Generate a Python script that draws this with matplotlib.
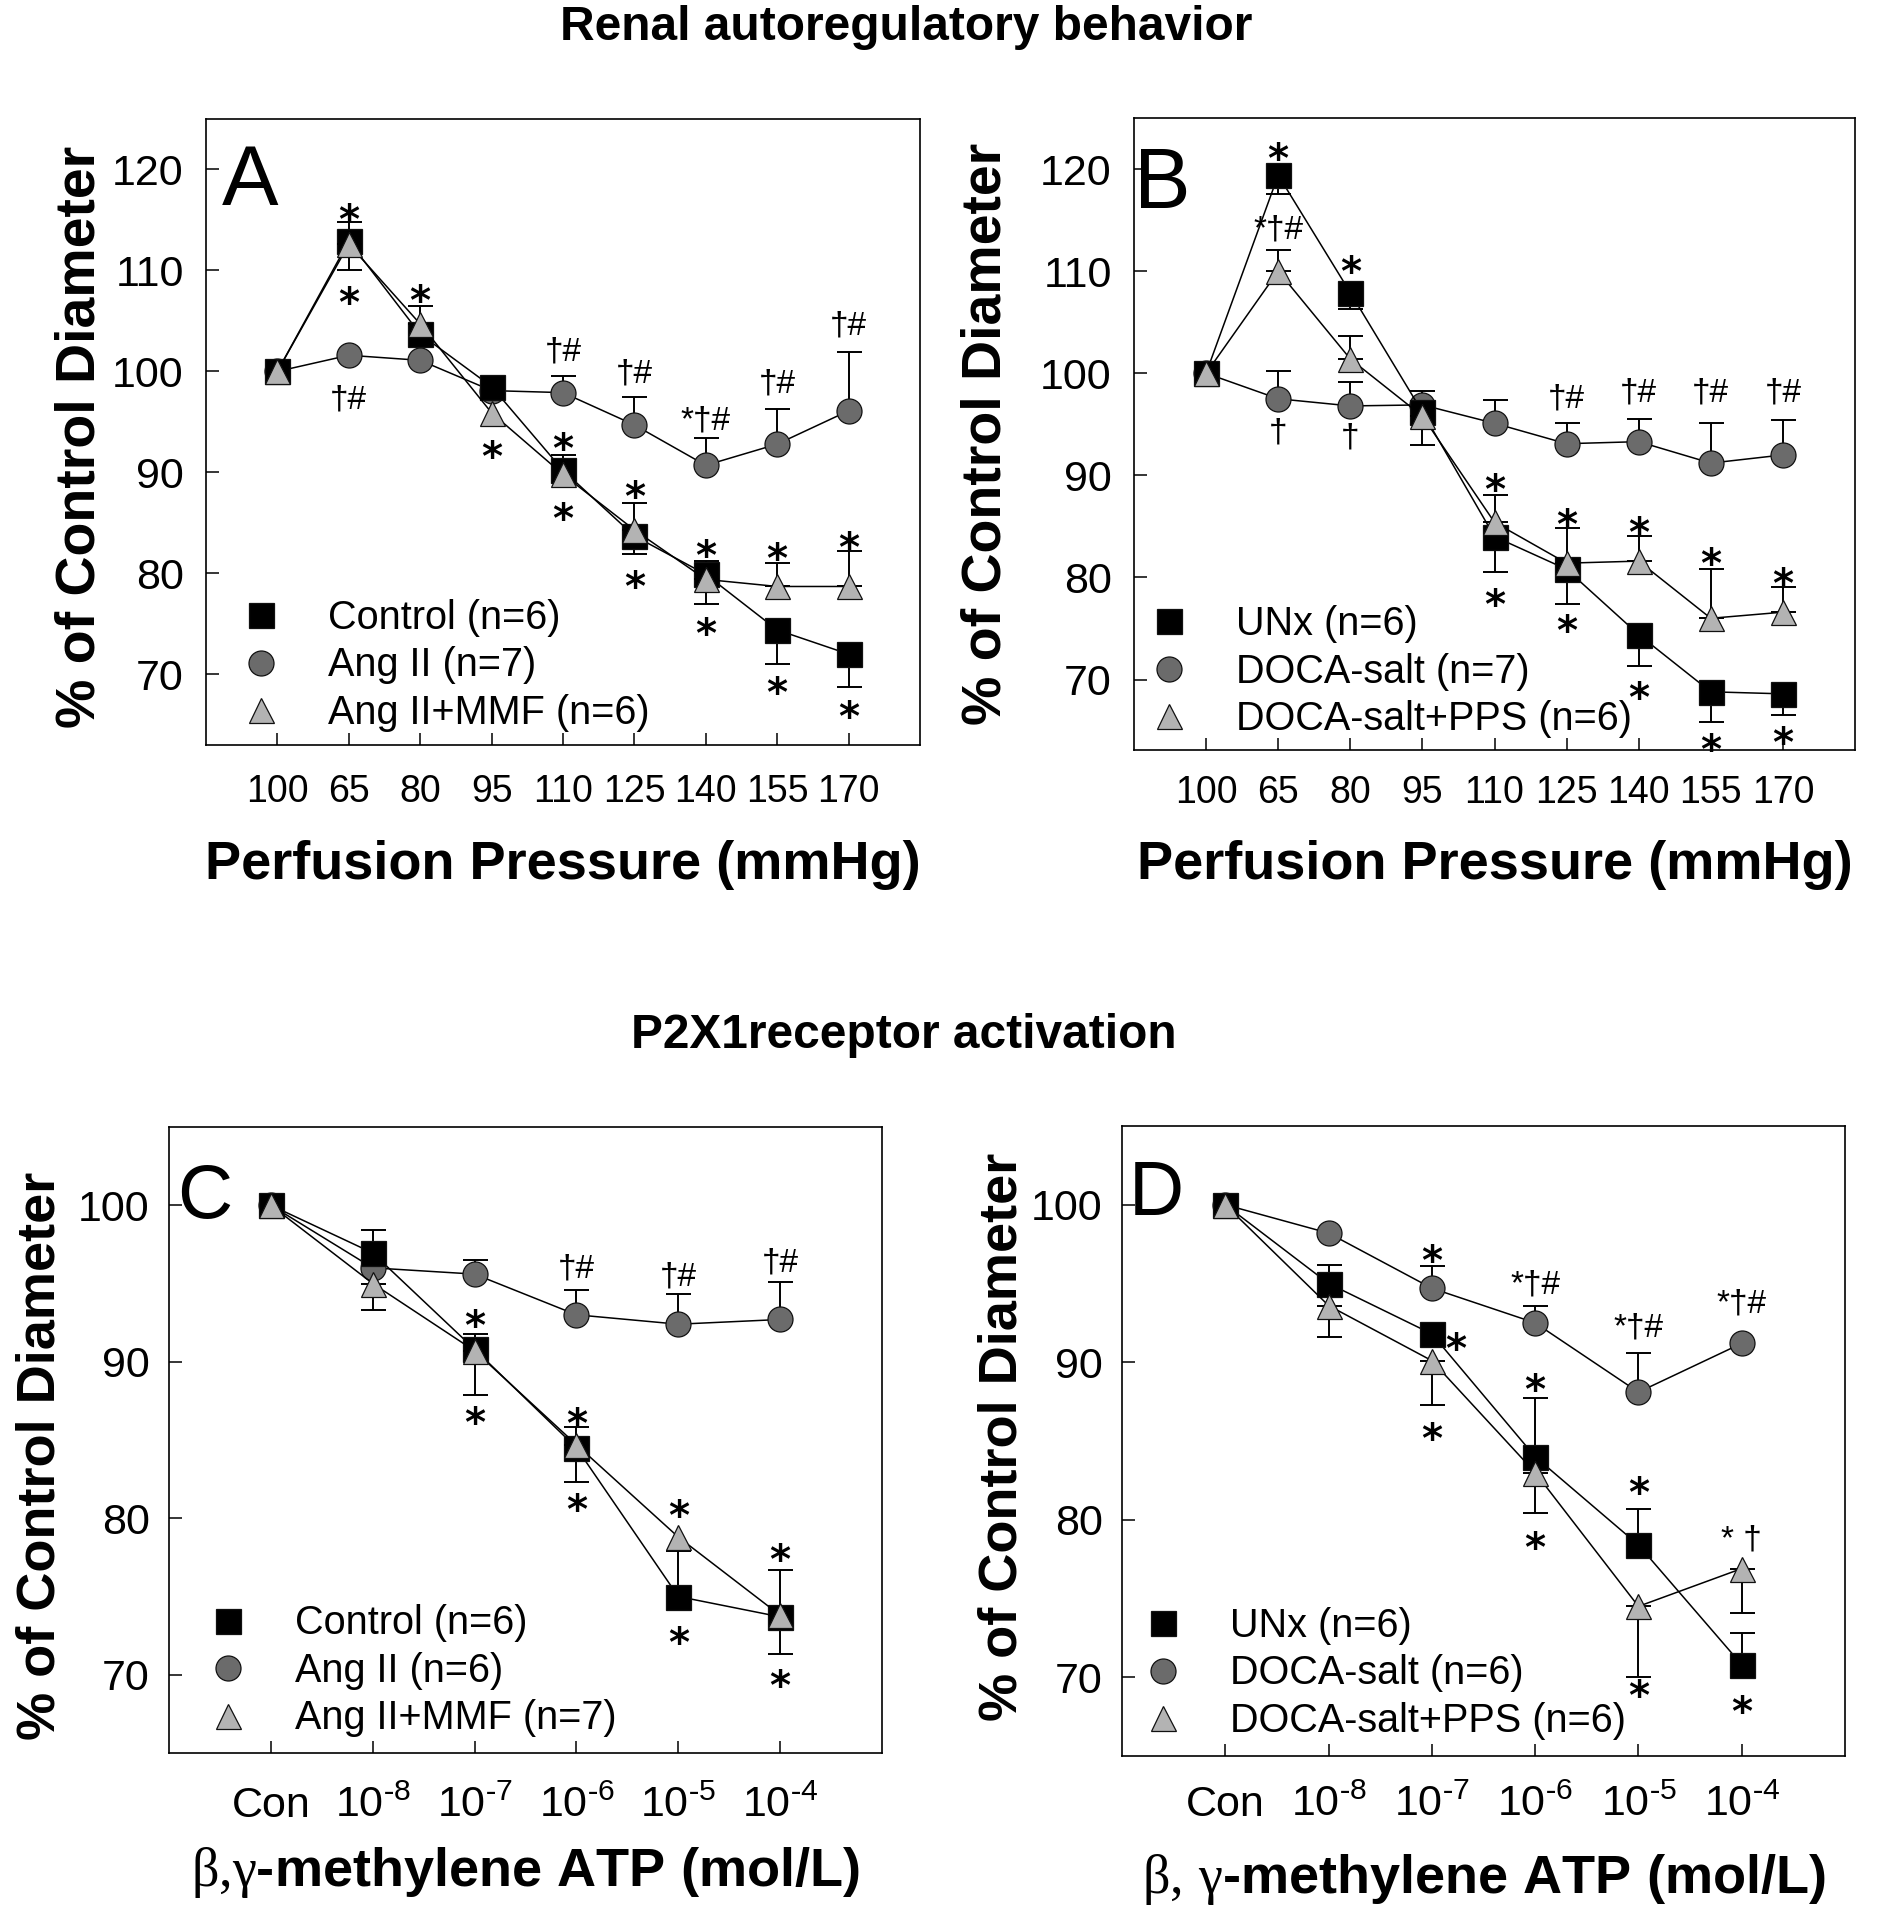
import numpy as np
import matplotlib
matplotlib.use('Agg')
import matplotlib.pyplot as plt
from matplotlib.lines import Line2D

plt.rcParams['font.family'] = ['Liberation Sans', 'DejaVu Sans']
plt.rcParams['mathtext.fontset'] = 'custom'
plt.rcParams['mathtext.rm'] = 'Liberation Serif'
plt.rcParams['mathtext.sf'] = 'Liberation Sans'
plt.rcParams['mathtext.it'] = 'Liberation Sans:italic'
plt.rcParams['mathtext.bf'] = 'Liberation Sans:bold'

# ---------------- data ----------------
pressure_labels = ['100', '65', '80', '95', '110', '125', '140', '155', '170']
atp_labels = ['Con', r'$\mathsf{10^{\text{-}8}}$', r'$\mathsf{10^{\text{-}7}}$',
              r'$\mathsf{10^{\text{-}6}}$', r'$\mathsf{10^{\text{-}5}}$',
              r'$\mathsf{10^{\text{-}4}}$']

# Panel A
A_control = [100, 112.9, 103.7, 98.5, 90.2, 83.7, 79.9, 74.4, 72.0]
A_control_up = [0, 1.9, 0, 0, 1.5, 0, 1.3, 0, 0]
A_control_dn = [0, 0, 0, 0, 0, 1.8, 0, 3.4, 3.3]
A_angii = [100, 101.6, 101.1, 98.1, 97.9, 94.7, 90.7, 92.8, 96.1]
A_angii_up = [0, 0, 0, 0, 1.6, 2.8, 2.7, 3.5, 5.8]
A_angii_dn = [0, 0, 0, 0, 0, 0, 0, 0, 0]
A_mmf = [100, 112.6, 104.7, 95.9, 89.8, 84.3, 79.4, 78.7, 78.7]
A_mmf_up = [0, 0, 1.8, 0, 0, 2.7, 0, 2.3, 3.5]
A_mmf_dn = [0, 2.6, 0, 0, 0, 0, 2.4, 0, 0]
A_labels = ['Control (n=6)', 'Ang II (n=7)', 'Ang II+MMF (n=6)']
A_ann = [(1, 116.1, '*'), (1, 107.8, '*'), (1, 97.3, '†#'), (2, 108.0, '*'), (3, 92.6, '*'),
         (4, 102.1, '†#'), (4, 93.4, '*'), (4, 86.4, '*'),
         (5, 99.9, '†#'), (5, 88.6, '*'), (5, 79.7, '*'),
         (6, 95.2, '*†#'), (6, 82.8, '*'), (6, 75.1, '*'),
         (7, 98.9, '†#'), (7, 82.5, '*'), (7, 69.2, '*'),
         (8, 104.6, '†#'), (8, 83.6, '*'), (8, 66.8, '*')]

# Panel B
B_unx = [100, 119.4, 107.9, 96.2, 84.0, 80.8, 74.4, 68.8, 68.6]
B_unx_up = [0, 0, 0, 0, 0, 0, 0, 0, 0]
B_unx_dn = [0, 1.8, 1.6, 0, 3.5, 3.4, 3.1, 3.0, 2.1]
B_doca = [100, 97.5, 96.8, 96.9, 95.1, 93.1, 93.3, 91.2, 92.0]
B_doca_up = [0, 2.7, 2.3, 1.4, 2.3, 2.0, 2.2, 3.9, 3.4]
B_doca_dn = [0, 0, 0, 0, 0, 0, 0, 0, 0]
B_pps = [100, 110.0, 101.4, 95.8, 85.4, 81.4, 81.6, 76.0, 76.6]
B_pps_up = [0, 2.1, 2.2, 0, 2.7, 3.4, 2.5, 4.8, 2.5]
B_pps_dn = [0, 0, 0, 2.8, 0, 0, 0, 0, 0]
B_labels = ['UNx (n=6)', 'DOCA-salt (n=7)', 'DOCA-salt+PPS (n=6)']
B_ann = [(1, 122.0, '*'), (1, 114.2, '*†#'), (1, 94.3, '†'), (2, 111.0, '*'), (2, 93.8, '†'),
         (4, 89.6, '*'), (4, 78.4, '*'),
         (5, 97.6, '†#'), (5, 86.2, '*'), (5, 75.8, '*'),
         (6, 98.2, '†#'), (6, 85.4, '*'), (6, 69.2, '*'),
         (7, 98.2, '†#'), (7, 82.4, '*'), (7, 64.2, '*'),
         (8, 98.2, '†#'), (8, 80.4, '*'), (8, 64.8, '*')]

# Panel C
C_control = [100, 96.95, 90.8, 84.5, 75.0, 73.7]
C_control_up = [0, 1.5, 1.0, 0, 2.9, 0]
C_control_dn = [0, 0, 0, 2.2, 0, 2.4]
C_angii = [100, 96.0, 95.6, 93.0, 92.4, 92.7]
C_angii_up = [0, 0, 0.9, 1.6, 1.9, 2.4]
C_angii_dn = [0, 0, 0, 0, 0, 0]
C_mmf = [100, 95.0, 90.7, 84.7, 78.8, 73.8]
C_mmf_up = [0, 0, 0, 1.1, 0, 2.9]
C_mmf_dn = [0, 1.7, 2.8, 0, 0, 0]
C_labels = ['Control (n=6)', 'Ang II (n=6)', 'Ang II+MMF (n=7)']
C_ann = [(2, 93.0, '*'), (2, 86.8, '*'),
         (3, 96.0, '†#'), (3, 86.7, '*'), (3, 81.2, '*'),
         (4, 95.5, '†#'), (4, 80.8, '*'), (4, 72.7, '*'),
         (5, 96.4, '†#'), (5, 78.0, '*'), (5, 70.0, '*')]

# Panel D
D_unx = [100, 95.0, 91.8, 84.0, 78.4, 70.8]
D_unx_up = [0, 1.2, 0, 3.7, 2.3, 2.0]
D_unx_dn = [0, 0, 0, 0, 0, 0]
D_doca = [100, 98.2, 94.7, 92.5, 88.1, 91.2]
D_doca_up = [0, 0, 1.4, 1.1, 2.5, 0]
D_doca_dn = [0, 0, 0, 0, 0, 0]
D_pps = [100, 93.6, 90.1, 83.0, 74.5, 76.9]
D_pps_up = [0, 0, 0, 0, 0, 0]
D_pps_dn = [0, 2.0, 2.8, 2.6, 4.5, 2.8]
D_labels = ['UNx (n=6)', 'DOCA-salt (n=6)', 'DOCA-salt+PPS (n=6)']
D_ann = [(2, 97.1, '*'), (2.23, 91.5, '*'), (2, 85.8, '*'),
         (3, 95.0, '*†#'), (3, 88.9, '*'), (3, 78.9, '*'),
         (4, 92.3, '*†#'), (4, 82.4, '*'), (4, 69.5, '*'),
         (5, 93.8, '*†#'), (5, 78.8, '* †'), (5, 68.5, '*')]

# ---------------- styles ----------------
STY = [dict(marker='s', mfc='#000000'),
       dict(marker='o', mfc='#6b6b6b'),
       dict(marker='^', mfc='#b3b3b3')]
MS = 18
ZORD = [3, 2, 4]

W, H = 1888, 1920
fig = plt.figure(figsize=(W / 100, H / 100), dpi=100)


def ax_at(l, t, r, b):
    return fig.add_axes([l / W, 1 - b / H, (r - l) / W, (b - t) / H])


def draw_series(ax, y, up, dn, k):
    y = np.asarray(y, float)
    up = np.asarray(up, float)
    dn = np.asarray(dn, float)
    x = np.arange(len(y))
    z = ZORD[k]
    for err, sign in ((up, 1), (dn, -1)):
        m = err > 0
        if m.any():
            zeros = np.zeros(m.sum())
            yerr = [zeros, err[m]] if sign > 0 else [err[m], zeros]
            ax.errorbar(x[m], y[m], yerr=yerr, fmt='none', ecolor='black',
                        elinewidth=1.4, capsize=9, capthick=1.4, zorder=z)
    ax.plot(x, y, color='black', lw=1.1, ms=MS, mec='#111111', mew=0.9,
            zorder=z + 0.5, **STY[k])


def annotate(ax, anns):
    for x, y, s in anns:
        if s == '*':
            fs = 29
            ax.annotate(s, (x, y), xytext=(0, -0.59 * fs), textcoords='offset points',
                        ha='center', va='baseline', fontsize=fs, family='DejaVu Sans',
                        fontweight='bold', zorder=6)
        else:
            fs = 24
            ax.annotate(s, (x, y), xytext=(0, -0.30 * fs), textcoords='offset points',
                        ha='center', va='baseline', fontsize=fs, zorder=6)


def setup(ax, cfg):
    ax.set_xlim(*cfg['xlim'])
    ax.set_ylim(*cfg['ylim'])
    n = len(cfg['xlabels'])
    ax.set_xticks(np.arange(n))
    ax.set_xticklabels(cfg['xlabels'])
    ax.set_yticks(cfg['yticks'])
    ax.tick_params(axis='both', direction='in', length=9, width=1.1)
    ax.tick_params(axis='x', labelsize=cfg['xfs'], pad=cfg['xpad'])
    ax.tick_params(axis='y', labelsize=cfg['yfs'], pad=cfg['ypad'])
    for lab in ax.get_xticklabels():
        lab.set_va('baseline')
    for sp in ax.spines.values():
        sp.set_linewidth(1.2)
    ax.set_ylabel('% of Control Diameter', fontsize=cfg['ylfs'], fontweight='bold',
                  va='center', ha='center')
    ax.yaxis.set_label_coords(*cfg['ylpos'])
    ax.set_xlabel(cfg['xlabel'], fontsize=cfg['xlfs'], fontweight='bold', va='baseline')
    ax.xaxis.set_label_coords(*cfg['xlpos'])
    ax.text(cfg['letpos'][0], cfg['letpos'][1], cfg['letter'], transform=ax.transAxes,
            fontsize=cfg['letfs'], ha='left', va='baseline')


def legend(ax, labels, x0, yc):
    handles = [Line2D([], [], ls='none', ms=MS, mec='#111111', mew=0.9, **STY[k])
               for k in range(3)]
    ax.legend(handles, labels, loc='center left', bbox_to_anchor=(x0, yc),
              frameon=False, fontsize=28.5, handlelength=1.2, handletextpad=1.09,
              borderpad=0, borderaxespad=0, labelspacing=0.24, numpoints=1)


# ---------------- panel A ----------------
axA = ax_at(206, 119, 920, 745)
draw_series(axA, A_angii, A_angii_up, A_angii_dn, 1)
draw_series(axA, A_control, A_control_up, A_control_dn, 0)
draw_series(axA, A_mmf, A_mmf_up, A_mmf_dn, 2)
annotate(axA, A_ann)
setup(axA, dict(xlim=(-1, 9), ylim=(63, 125), xlabels=pressure_labels,
                yticks=[70, 80, 90, 100, 110, 120], xfs=27, xpad=41, yfs=31, ypad=16,
                ylfs=40, ylpos=(-0.176, 0.492), xlabel='Perfusion Pressure (mmHg)',
                xlfs=39, xlpos=(0.5, -0.214), letter='A', letpos=(0.022, 0.862), letfs=61))
legend(axA, A_labels, 0.044, 0.127)

# ---------------- panel B ----------------
axB = ax_at(1134, 118, 1855, 750)
draw_series(axB, B_doca, B_doca_up, B_doca_dn, 1)
draw_series(axB, B_unx, B_unx_up, B_unx_dn, 0)
draw_series(axB, B_pps, B_pps_up, B_pps_dn, 2)
annotate(axB, B_ann)
setup(axB, dict(xlim=(-1, 9), ylim=(63.1, 125), xlabels=pressure_labels,
                yticks=[70, 80, 90, 100, 110, 120], xfs=27, xpad=38, yfs=31, ypad=16,
                ylfs=40, ylpos=(-0.204, 0.50), xlabel='Perfusion Pressure (mmHg)',
                xlfs=39, xlpos=(0.5, -0.204), letter='B', letpos=(0.0, 0.858), letfs=61))
legend(axB, B_labels, 0.0155, 0.124)

# ---------------- panel C ----------------
axC = ax_at(169, 1127, 882, 1753)
draw_series(axC, C_angii, C_angii_up, C_angii_dn, 1)
draw_series(axC, C_control, C_control_up, C_control_dn, 0)
draw_series(axC, C_mmf, C_mmf_up, C_mmf_dn, 2)
annotate(axC, C_ann)
setup(axC, dict(xlim=(-1, 6), ylim=(65, 105), xlabels=atp_labels,
                yticks=[70, 80, 90, 100], xfs=31, xpad=46, yfs=31, ypad=14,
                ylfs=39, ylpos=(-0.180, 0.474),
                xlabel=r'$\mathrm{\beta{,}\gamma}$-methylene ATP (mol/L)',
                xlfs=39, xlpos=(0.5, -0.212), letter='C', letpos=(0.011, 0.855), letfs=55))
legend(axC, C_labels, 0.049, 0.131)

# ---------------- panel D ----------------
axD = ax_at(1122, 1126, 1845, 1756)
draw_series(axD, D_doca, D_doca_up, D_doca_dn, 1)
draw_series(axD, D_unx, D_unx_up, D_unx_dn, 0)
draw_series(axD, D_pps, D_pps_up, D_pps_dn, 2)
annotate(axD, D_ann)
setup(axD, dict(xlim=(-1, 6), ylim=(65, 105), xlabels=atp_labels,
                yticks=[70, 80, 90, 100], xfs=31, xpad=43, yfs=31, ypad=14,
                ylfs=39, ylpos=(-0.165, 0.507),
                xlabel=r'$\mathrm{\beta{,}\ \gamma}$-methylene ATP (mol/L)',
                xlfs=39, xlpos=(0.5, -0.217), letter='D', letpos=(0.010, 0.859), letfs=55))
legend(axD, D_labels, 0.0235, 0.131)

# ---------------- titles ----------------
fig.text(906 / W, 1 - 40 / H, 'Renal autoregulatory behavior', ha='center', va='baseline',
         fontsize=34.5, fontweight='bold')
fig.text(904 / W, 1 - 1048 / H, 'P2X1receptor activation', ha='center', va='baseline',
         fontsize=34.5, fontweight='bold')

fig.savefig('out.png', dpi=100, facecolor='white')
